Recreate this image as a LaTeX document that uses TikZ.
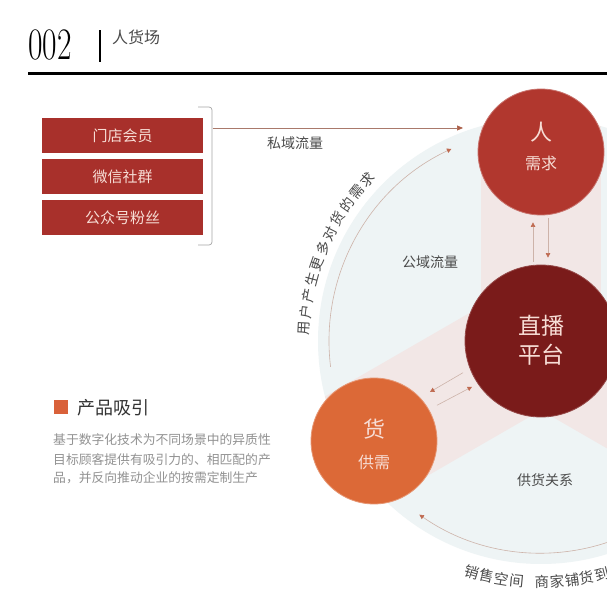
\documentclass[tikz,border=0pt]{standalone}
\usepackage{fontspec}
\newfontfamily\cjk{Noto Sans CJK SC}
\usetikzlibrary{arrows.meta,calc}
\definecolor{pale}{HTML}{EEF4F5}
\definecolor{bandc}{HTML}{F2E7E6}
\definecolor{renc}{HTML}{B1372E}
\definecolor{zbc}{HTML}{7A1B1A}
\definecolor{huoc}{HTML}{DC6937}
\definecolor{boxc}{HTML}{A8302B}
\definecolor{lightt}{HTML}{F7DDD5}
\definecolor{linec}{HTML}{CDB3A9}
\definecolor{tipc}{HTML}{BF6A50}
\definecolor{darkt}{HTML}{4A4A4A}
\definecolor{greyt}{HTML}{929292}
\definecolor{sqc}{HTML}{D9613A}
\definecolor{prc}{HTML}{A9796B}
\begin{document}
\begin{tikzpicture}[x=1pt,y=1pt,
  cj/.style={font=\cjk\fontsize{#1}{#1}\selectfont},
  redbox/.style={rectangle, fill=boxc, minimum width=161pt, minimum height=35pt, inner sep=0pt, text=lightt, cj=15},
  bigc/.style={circle, inner sep=0pt, minimum size=#1},
  intext/.style={text=lightt, inner sep=0pt},
  thinarr/.style={draw=linec, line width=0.6pt, -{Triangle[length=4.5pt,width=4.5pt,color=tipc]}},
  arct/.style={cj=14, text=darkt, inner sep=0pt},
  lbl/.style={cj=14, text=darkt, inner sep=0pt}
]
\useasboundingbox (0,0) rectangle (607,608);
\clip (0,0) rectangle (607,608);
\fill[white] (0,0) rectangle (607,608);

% header
\node[anchor=base west, inner sep=0pt, font=\fontsize{45}{45}\selectfont] (num) at (28,548) {\scalebox{0.7}[1]{002}};
\draw[line width=2.5pt] (100,546) -- (100,578);
\node[anchor=west, cj=16, text=darkt, inner sep=0pt] (ttl) at (112,571) {人货场};
\draw[line width=3pt] (28,534) -- (607,534);

% pale circle and bands
\coordinate (cc) at (541,267);
\fill[pale] (cc) circle (223);
\begin{scope}
  \clip (cc) circle (223);
  \fill[bandc] ($(cc)+(-60,-20)$) rectangle ++(120,320);
  \fill[bandc, rotate around={120:(cc)}] ($(cc)+(-60,-20)$) rectangle ++(120,320);
  \fill[bandc, rotate around={240:(cc)}] ($(cc)+(-60,-20)$) rectangle ++(120,320);
\end{scope}

% circles
\node[bigc=126pt, fill=renc, draw=renc!70!white, line width=0.8pt] (ren) at (541,456) {};
\node[bigc=152pt, fill=zbc, draw=zbc!80!white, line width=0.8pt] (zb) at (cc) {};
\node[bigc=126pt, fill=huoc, draw=huoc!70!white, line width=0.8pt] (huo) at (374,167) {};

\node[intext, cj=22] (renA) at (541,476) {人};
\node[intext, cj=16] (renB) at (541,445) {需求};
\node[intext, cj=23] (zbA) at (541,282) {直播};
\node[intext, cj=23] (zbB) at (541,253) {平台};
\node[intext, cj=22] (huoA) at (374,179) {货};
\node[intext, cj=16] (huoB) at (374,146) {供需};

% arrows between circles
\draw[thinarr, shorten <=3pt, shorten >=7pt] ([xshift=-8pt]zb.north) -- ([xshift=-8pt]ren.south);
\draw[thinarr, shorten <=3pt, shorten >=7pt] ([xshift=7pt]ren.south) -- ([xshift=7pt]zb.north);
\draw[thinarr] ($(zb)!0.467!(huo)+(0,15)$) -- ($(zb)!0.665!(huo)+(0,15.5)$);
\draw[thinarr] ($(zb)!0.623!(huo)+(0,-2)$) -- ($(zb)!0.413!(huo)+(0,-4.5)$);

% big arcs
\draw[thinarr] ($(cc)+(187:212)$) arc[start angle=187, end angle=115, radius=212];
\draw[thinarr] ($(cc)+(300:212)$) arc[start angle=300, end angle=235, radius=212];

% labels in sectors
\node[lbl] (gy) at (430,346) {公域流量};
\node[lbl] (gh) at (545,128) {供货关系};

% curved text left
\foreach \ch [count=\i from 0] in {用,户,产,生,更,多,对,货,的,需,求} {
  \pgfmathsetmacro\ang{177-4*\i}
  \pgfmathsetmacro\rot{\ang-90}
  \node[arct, rotate=\rot] (lt\i) at ($(cc)+(\ang:237)$) {\ch};
}
% curved text bottom
\foreach \ang/\ch [count=\i] in {253.4/销,257.0/售,260.6/空,264.2/间,270.2/商,273.8/家,277.4/铺,281.0/货,284.6/到} {
  \pgfmathsetmacro\rot{\ang-270}
  \node[arct, cj=14.5, rotate=\rot] (bt\i) at ($(cc)+(\ang:241)$) {\ch};
}

% left boxes
\node[redbox] (b1) at (122.5,472.5) {门店会员};
\node[redbox] (b2) at (122.5,431.5) {微信社群};
\node[redbox] (b3) at (122.5,390.5) {公众号粉丝};
\draw[draw=gray!70, line width=0.7pt, rounded corners=3pt] (198,501) -- (212,501) -- (212,363) -- (198,363);
\coordinate (brk) at (212.5,480);
\coordinate (pe) at (463,480);
\draw[draw=prc, line width=0.7pt, -{Triangle[length=6pt,width=5pt,color=tipc!90!black]}] (brk) -- (pe);
\node[lbl] (sy) at (295,465) {私域流量};

% left description
\node[rectangle, fill=sqc, minimum size=14pt, inner sep=0pt] (sq) at (60.5,201) {};
\node[anchor=west, cj=18, text=black!80, inner sep=0pt] (cp) at (77,200) {产品吸引};
\node[anchor=west, cj=12.8, text=greyt, inner sep=0pt] (d1) at (53,168) {基于数字化技术为不同场景中的异质性};
\node[anchor=west, cj=12.8, text=greyt, inner sep=0pt] (d2) at (53,148) {目标顾客提供有吸引力的、相匹配的产};
\node[anchor=west, cj=12.8, text=greyt, inner sep=0pt] (d3) at (53,130) {品，并反向推动企业的按需定制生产};
\end{tikzpicture}
\end{document}
